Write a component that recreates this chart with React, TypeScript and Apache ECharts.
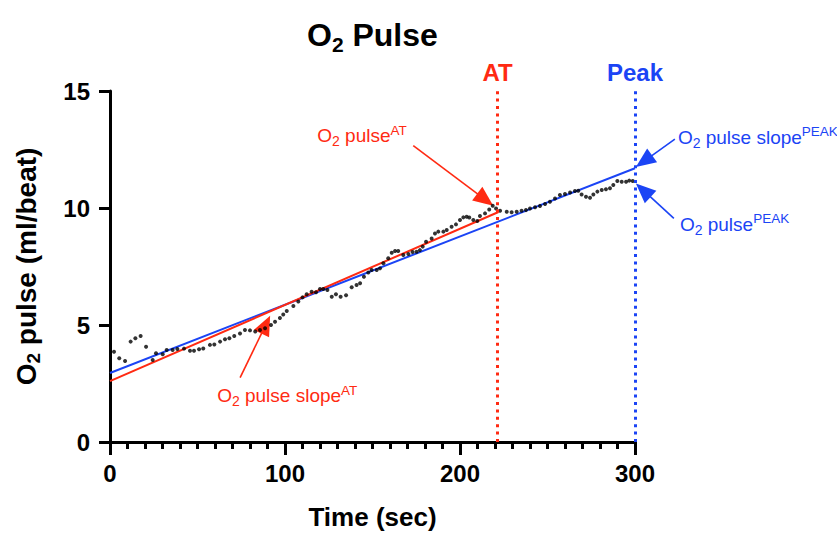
import React, { useEffect, useRef } from "react";
import * as echarts from "echarts";

const timeSec = [
  2.3, 5.3, 8.6, 11.8, 14.5, 17.5, 20.6, 24.4, 26.3, 30.1, 32.4, 35.8, 38.5, 42.3, 45.7, 48, 50.9, 53.3,
  57.1, 59.6, 62.9, 65.7, 68.2, 71, 74.3, 77.1, 80, 83, 85.7, 88.6, 92, 94.3, 97.1, 99, 101, 104.8,
  107.6, 110, 112.4, 115.2, 117.7, 120, 121.9, 124.2, 126.7, 129.1, 131.8, 134.9, 138.1, 140.9, 142.9,
  145.1, 147.6, 149.5, 152.4, 154.3, 156.2, 159, 161, 162.9, 164.7, 167.6, 170.5, 172.9, 175.2, 177.1,
  178.7, 180.6, 183.8, 185.7, 187.6, 190.5, 192.4, 195.2, 197.7, 200, 201.9, 203.8, 205.3, 207.6, 209.9,
  211.4, 214.3, 216.7, 218.7, 220.6, 222.9, 226.7, 229.5, 232.4, 235.2, 237.7, 240, 242.9, 245.7, 248.6,
  251.4, 254.3, 257.1, 260, 262.9, 265.7, 267.6, 269.5, 272, 274.3, 276.2, 278.5, 281, 283.4, 285.7,
  287.6, 289.9, 292.4, 294.9, 296.7, 298.7,
];
const o2Pulse = [
  3.86, 3.58, 3.46, 4.29, 4.43, 4.53, 4.07, 3.5, 3.79, 3.75, 3.93, 3.93, 3.97, 3.99, 3.9, 3.9, 3.96, 4.0,
  4.15, 4.17, 4.29, 4.39, 4.43, 4.53, 4.64, 4.79, 4.77, 4.72, 4.79, 4.86, 5.0, 5.14, 5.3, 5.45, 5.6, 5.81,
  6.0, 6.18, 6.31, 6.42, 6.4, 6.54, 6.54, 6.5, 6.21, 6.31, 6.21, 6.27, 6.61, 6.71, 6.78,
  7.06, 7.24, 7.35, 7.35, 7.42, 7.64, 7.85, 8.09, 8.16, 8.16, 7.99, 8.03, 8.12, 8.13, 8.2,
  8.35, 8.56, 8.7, 8.91, 8.99, 8.99, 9.06, 9.2, 9.3, 9.49, 9.6, 9.63, 9.59, 9.49, 9.44,
  9.66, 9.77, 9.94, 10.1, 9.98, 9.88, 9.84, 9.82, 9.84, 9.88, 9.91, 9.98, 10.03, 10.09, 10.17,
  10.27, 10.41, 10.56, 10.6, 10.66, 10.73, 10.74, 10.58, 10.48, 10.44, 10.58, 10.7, 10.77, 10.8, 10.84,
  10.98, 11.15, 11.12, 11.12, 11.17, 11.15,
];
const slopeAtLine = [[0, 2.6], [222, 9.83]];
const slopePeakLine = [[0, 2.95], [300, 11.7]];
const atTime = 221.5;
const peakTime = 300;
const xTicks = [0, 100, 200, 300];
const yTicks = [0, 5, 10, 15];

const RED = "#ff2a12";
const BLUE = "#1b44f5";
const FONT = "'Liberation Sans', Arial, Helvetica, sans-serif";

type Ann = {
  tip: [number, number];
  tail: [number, number];
  label: [number, number];
  text: string;
  color: string;
};

const annotations: Ann[] = [
  { tip: [219, 10.1], tail: [-80, -60], label: [-176, -70], text: "{n|O}{sub|2}{n| pulse}{sup|AT}", color: RED },
  { tip: [91.5, 5.4], tail: [-30, 62], label: [-53, 80], text: "{n|O}{sub|2}{n| pulse slope}{sup|AT}", color: RED },
  { tip: [300.5, 11.75], tail: [39, -28], label: [42, -30], text: "{n|O}{sub|2}{n| pulse slope}{sup|PEAK}", color: BLUE },
  { tip: [300.5, 11.05], tail: [38, 35], label: [44, 41], text: "{n|O}{sub|2}{n| pulse}{sup|PEAK}", color: BLUE },
];

function arrowEls(tip: number[], tail: number[], color: string) {
  const dx = tip[0] - tail[0];
  const dy = tip[1] - tail[1];
  const len = Math.hypot(dx, dy);
  const ux = dx / len;
  const uy = dy / len;
  const headLen = 20;
  const headW = 8.5;
  const bx = tip[0] - ux * headLen;
  const by = tip[1] - uy * headLen;
  const px = -uy;
  const py = ux;
  return [
    {
      type: "line",
      shape: { x1: tail[0], y1: tail[1], x2: bx + ux * 2, y2: by + uy * 2 },
      style: { stroke: color, lineWidth: 1.6 },
      silent: true,
    },
    {
      type: "polygon",
      shape: {
        points: [
          [tip[0], tip[1]],
          [bx + px * headW, by + py * headW],
          [bx - px * headW, by - py * headW],
        ],
      },
      style: { fill: color },
      silent: true,
    },
  ];
}

function richFor(color: string) {
  return {
    n: { fontSize: 19, fill: color, fontFamily: FONT, lineHeight: 25 },
    sub: { fontSize: 14, fill: color, fontFamily: FONT, verticalAlign: "bottom", lineHeight: 14 },
    sup: { fontSize: 13.5, fill: color, fontFamily: FONT, verticalAlign: "top", lineHeight: 13 },
  };
}

export default function App() {
  const ref = useRef<HTMLDivElement>(null);
  useEffect(() => {
    if (!ref.current) return;
    const chart = echarts.init(ref.current, null, { renderer: "svg" });
    const vLineStyle = (color: string) => ({ color, width: 3, type: [3, 4.4] as any });
    chart.setOption({
      animation: false,
      backgroundColor: "#ffffff",
      title: {
        text: "{a|O}{b|2}{a| Pulse}",
        left: 302,
        top: 10,
        textStyle: {
          rich: {
            a: { fontSize: 32, fontWeight: "bold", color: "#000", fontFamily: FONT, lineHeight: 40 },
            b: { fontSize: 21, fontWeight: "bold", color: "#000", fontFamily: FONT, verticalAlign: "bottom", lineHeight: 21 },
          },
        },
      },
      grid: { left: 110, right: 202, top: 91, bottom: 93, containLabel: false },
      xAxis: {
        type: "value",
        min: xTicks[0],
        max: xTicks[xTicks.length - 1],
        interval: 100,
        name: "Time (sec)",
        nameLocation: "middle",
        nameGap: 62,
        nameTextStyle: { fontSize: 26, fontWeight: "bold", color: "#000", fontFamily: FONT },
        axisLine: { onZero: false, lineStyle: { color: "#000", width: 3 } },
        axisTick: { show: true, length: 13, lineStyle: { color: "#000", width: 3 } },
        minorTick: { show: true, splitNumber: 10, length: 7, lineStyle: { color: "#000", width: 3 } },
        axisLabel: { fontSize: 24, fontWeight: "bold", color: "#000", fontFamily: FONT, margin: 19 },
        splitLine: { show: false },
      },
      yAxis: {
        type: "value",
        min: yTicks[0],
        max: yTicks[yTicks.length - 1],
        interval: 5,
        name: "{a|O}{b|2}{a| pulse (ml/beat)}",
        nameLocation: "middle",
        nameGap: 67,
        nameRotate: 90,
        nameTextStyle: {
          rich: {
            a: { fontSize: 28, fontWeight: "bold", color: "#000", fontFamily: FONT, lineHeight: 34 },
            b: { fontSize: 19, fontWeight: "bold", color: "#000", fontFamily: FONT, verticalAlign: "bottom", lineHeight: 19 },
          },
        },
        axisLine: { onZero: false, lineStyle: { color: "#000", width: 3 } },
        axisTick: { show: true, length: 11, lineStyle: { color: "#000", width: 3 } },
        axisLabel: { fontSize: 24, fontWeight: "bold", color: "#000", fontFamily: FONT, margin: 20 },
        splitLine: { show: false },
      },
      series: [
        {
          type: "line",
          data: slopePeakLine,
          showSymbol: false,
          symbol: "none",
          lineStyle: { color: BLUE, width: 2 },
          z: 3,
        },
        {
          type: "line",
          data: slopeAtLine,
          showSymbol: false,
          symbol: "none",
          lineStyle: { color: RED, width: 2 },
          z: 3,
        },
        {
          type: "scatter",
          data: timeSec.map((t, i) => [t, o2Pulse[i]]),
          symbol: "circle",
          symbolSize: 4,
          itemStyle: { color: "#000" },
          z: 4,
          markLine: {
            silent: true,
            symbol: ["none", "none"],
            data: [
              {
                xAxis: atTime,
                lineStyle: vLineStyle(RED),
                label: { show: true, position: "end", formatter: "AT", color: RED, fontSize: 24, fontWeight: "bold", fontFamily: FONT, distance: 7 },
              },
              {
                xAxis: peakTime,
                lineStyle: vLineStyle(BLUE),
                label: { show: true, position: "end", formatter: "Peak", color: BLUE, fontSize: 24, fontWeight: "bold", fontFamily: FONT, distance: 7 },
              },
            ],
          },
        },
      ],
    });

    const graphics: any[] = [];
    annotations.forEach((a) => {
      const p = chart.convertToPixel({ gridIndex: 0 }, a.tip) as number[];
      const tail = [p[0] + a.tail[0], p[1] + a.tail[1]];
      graphics.push(...arrowEls(p, tail, a.color));
      graphics.push({
        type: "text",
        x: p[0] + a.label[0],
        y: p[1] + a.label[1],
        silent: true,
        style: {
          text: a.text,
          fill: a.color,
          rich: richFor(a.color),
          align: "left",
          verticalAlign: "middle",
        },
      });
    });
    chart.setOption({ graphic: graphics });

    return () => chart.dispose();
  }, []);
  return (
    <div
      ref={ref}
      style={{ position: "fixed", left: 0, top: 0, width: 837, height: 535 }}
    />
  );
}
